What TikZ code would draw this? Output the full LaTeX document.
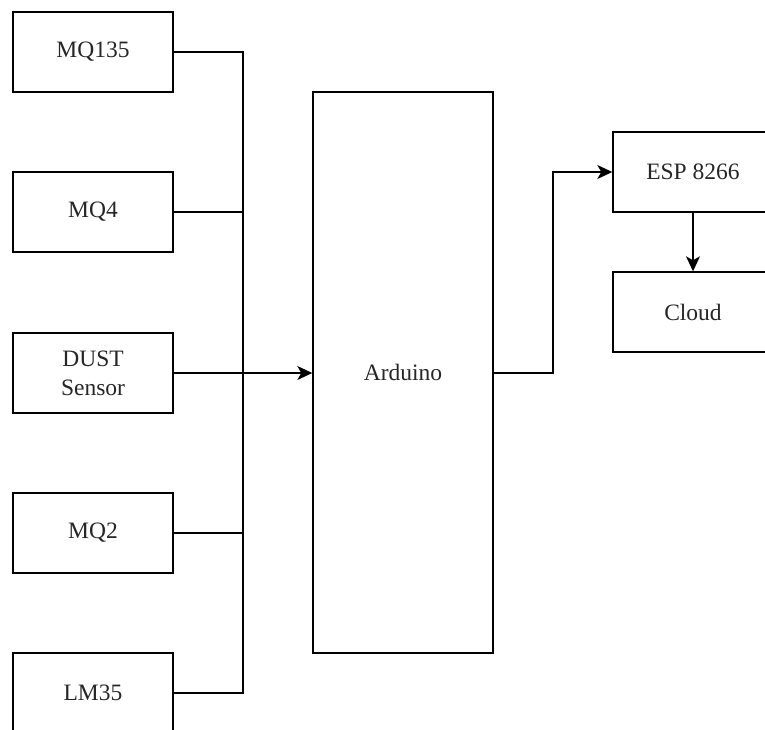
\documentclass[tikz,border=0pt]{standalone}
\usepackage{fontspec}
\setmainfont{Liberation Serif}
\usetikzlibrary{arrows.meta}
\begin{document}
\begin{tikzpicture}[x=1pt,y=-1pt,
  box/.style={draw, line width=1.4pt, minimum width=160pt, minimum height=80pt, inner sep=0pt, align=center, font=\fontsize{23.5}{29}\selectfont, text=black!85},
  bigbox/.style={box, minimum width=180pt, minimum height=561pt},
  wire/.style={line width=1.5pt},
  arr/.style={wire, -{Stealth[length=15pt,width=14pt,inset=4pt]}}]
\useasboundingbox (0,0) rectangle (765,729);
\begin{scope}
\clip (0,0) rectangle (765,729);
\node[box] (mq135) at (93,52) {MQ135};
\node[box] (mq4) at (93,212) {MQ4};
\node[box] (dust) at (93,373) {DUST\\Sensor};
\node[box] (mq2) at (93,533) {MQ2};
\node[box] (lm35) at (93,693) {LM35};
\node[bigbox] (ard) at (403,372.5) {Arduino};
\node[box] (esp) at (693,172) {ESP 8266};
\node[box] (cloud) at (693,312) {Cloud};
\coordinate (bustop) at (243,52);
\coordinate (busbot) at (243,693);
\coordinate (bend) at (553,373);
\draw[wire] (mq135.east) -- (bustop) -- (busbot) -- (lm35.east);
\draw[wire] (mq4.east) -- (mq4.east -| bustop);
\draw[wire] (mq2.east) -- (mq2.east -| bustop);
\draw[arr] (dust.east) -- (dust.east -| ard.west);
\draw[arr] (ard.east |- bend) -- (bend) |- (esp.west);
\draw[arr] (esp.south) -- (cloud.north);
\end{scope}
\end{tikzpicture}
\end{document}
